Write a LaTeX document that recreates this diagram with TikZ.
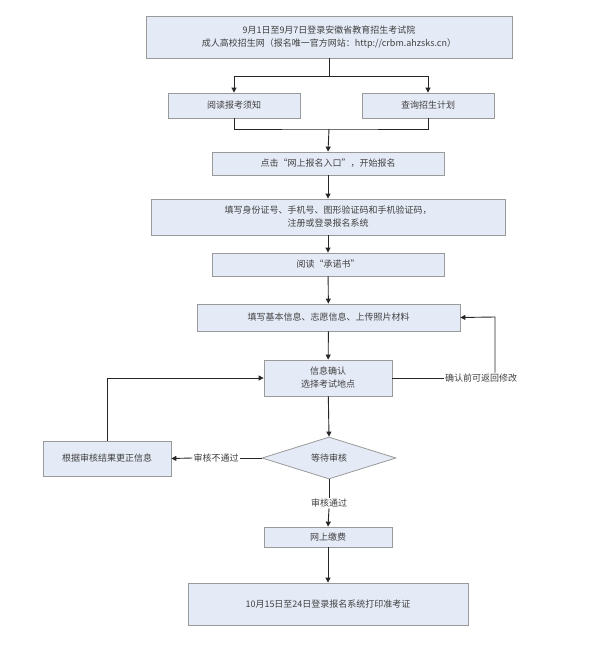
\documentclass[tikz,border=0pt]{standalone}
\usepackage{fontspec}
\setmainfont{Liberation Serif}
\newfontfamily\cjk{Noto Sans CJK SC}
\usetikzlibrary{shapes.geometric,arrows.meta}
\definecolor{bfill}{HTML}{E4EAF6}
\definecolor{bline}{HTML}{9A9A9A}
\begin{document}
\begin{tikzpicture}[x=1pt,y=-1pt,
  box/.style={draw=bline,fill=bfill,line width=0.8pt,inner sep=0pt,align=center,font=\cjk\fontsize{9}{13}\selectfont,text=black!75},
  lab/.style={font=\cjk\fontsize{9}{11}\selectfont,text=black!75,inner sep=1pt,fill=white},
  ln/.style={draw=black!85,line width=0.9pt},
  arr/.style={ln,-{Triangle[length=5pt,width=5pt]}}]
\useasboundingbox (0,0) rectangle (600,655);
\def\bx#1#2#3#4#5#6{\node[box,minimum width=#3-#2,minimum height=#5-#4] (#1) at ({(#2+#3)/2},{(#4+#5)/2}) {#6};}
\bx{a}{146}{512}{16}{58}{9月1日至9月7日登录安徽省教育招生考试院\\成人高校招生网（报名唯一官方网站：http://crbm.ahzsks.cn）}
\bx{b1}{168}{300}{93}{118}{阅读报考须知}
\bx{b2}{362}{494}{93}{118}{查询招生计划}
\bx{c}{212}{444}{152}{175}{点击“网上报名入口”，开始报名}
\bx{d}{151}{505}{199}{235}{填写身份证号、手机号、图形验证码和手机验证码，\\注册或登录报名系统}
\bx{e}{212}{444}{253}{276}{阅读“承诺书”}
\bx{f}{197}{460}{304}{331}{填写基本信息、志愿信息、上传照片材料}
\bx{g}{264}{392}{360}{396}{信息确认\\选择考试地点}
\node[box,diamond,aspect=3.2,minimum width=134,minimum height=42] (h) at (329,458) {等待审核};
\bx{k}{43}{171}{441}{476}{根据审核结果更正信息}
\bx{p}{264}{392}{527}{547}{网上缴费}
\bx{q}{188}{468}{583}{625}{10月15日至24日登录报名系统打印准考证}
\coordinate (s) at (329,76);
\coordinate (m) at (329,129);
\draw[ln] (a.south) -- (s);
\draw[arr] (s) -| (b1.north);
\draw[arr] (s) -| (b2.north);
\draw[ln] (b1.south) |- (m) -| (b2.south);
\draw[arr] (m) -- (c.north);
\draw[arr] (c) -- (d);
\draw[arr] (d) -- (e);
\draw[arr] (e) -- (f);
\draw[arr] (f) -- (g);
\node[lab,anchor=west] (r) at (444,378) {确认前可返回修改};
\draw[ln] (g.east) -- (r.west);
\draw[arr] (r.north -| 495,0) -- (495,317) -- (f.east);
\draw[arr] (g) -- (h.north);
\node[lab] (no) at (216,458) {审核不通过};
\draw[ln] (h.west) -- (no.east);
\draw[arr] (no.west) -- (k.east);
\draw[arr] (k.north) |- (g.west);
\node[lab] (yes) at (329,503) {审核通过};
\draw[ln] (h.south) -- (yes.north);
\draw[arr] (yes.south) -- (p.north);
\draw[arr] (p) -- (q);
\end{tikzpicture}
\end{document}
